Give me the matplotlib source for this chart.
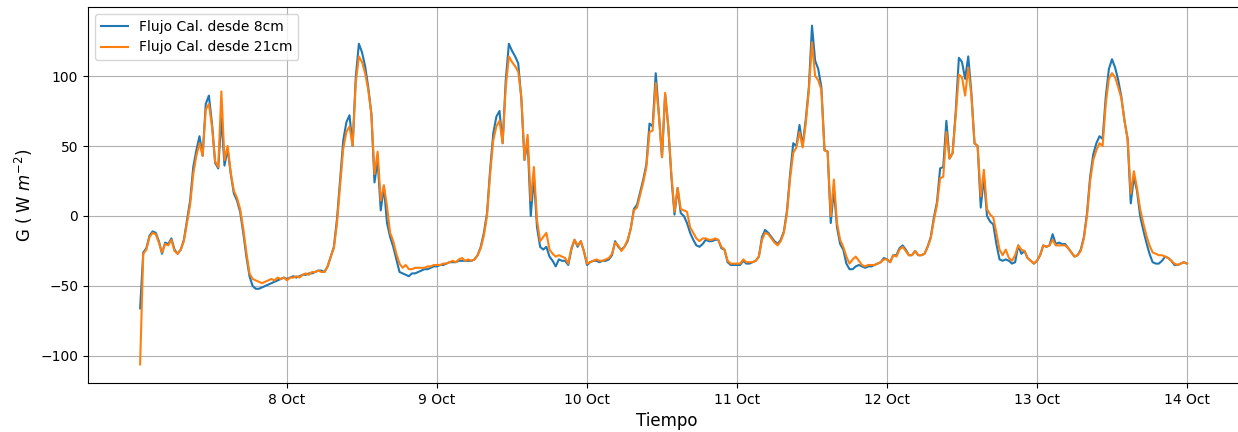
import matplotlib
matplotlib.use("Agg")
import matplotlib.pyplot as plt
import matplotlib.dates as mdates
import numpy as np
import pandas as pd

# half-hourly values, 7 Oct 00:30 -> 14 Oct 00:00
flujo_8cm = [
    # 7 Oct
    -66, -26, -23, -14, -11, -12, -18, -27, -19, -20, -16, -24,
    -27, -24, -17, -3, 11, 35, 47, 57, 43, 80, 86, 66,
    38, 34, 70, 36, 48, 30, 16, 11, 3, -12, -29, -43,
    -50, -52, -52, -51, -50, -49, -48, -47, -46, -45, -44,
    # 8 Oct
    -45, -44, -43, -44, -43, -42, -42, -41, -41, -40, -39, -39,
    -40, -36, -29, -22, -2, 26, 54, 67, 72, 50, 99, 123,
    117, 107, 92, 73, 24, 40, 4, 21, -5, -15, -22, -31,
    -40, -41, -42, -43, -41, -41, -40, -39, -38, -38, -37, -36,
    # 9 Oct
    -36, -35, -35, -34, -33, -33, -33, -32, -32, -32, -32, -32,
    -31, -28, -22, -12, 2, 33, 59, 71, 75, 52, 97, 123,
    118, 114, 109, 83, 40, 54, 0, 28, -8, -22, -24, -22,
    -29, -32, -36, -31, -32, -32, -35, -24, -17, -22, -18, -25,
    # 10 Oct
    -35, -33, -32, -32, -33, -32, -32, -31, -28, -18, -22, -24,
    -22, -18, -9, 5, 8, 17, 26, 37, 66, 64, 102, 73,
    42, 87, 64, 28, 1, 20, 2, 0, -5, -12, -17, -21,
    -22, -20, -17, -18, -18, -17, -17, -23, -24, -33, -35, -35,
    # 11 Oct
    -35, -35, -32, -34, -34, -33, -32, -29, -15, -10, -12, -15,
    -18, -20, -17, -11, 4, 30, 52, 50, 65, 50, 69, 92,
    136, 111, 105, 92, 47, 46, -5, 19, -8, -20, -24, -34,
    -38, -38, -36, -35, -36, -37, -36, -36, -35, -34, -33, -30,
    # 12 Oct
    -31, -33, -28, -28, -23, -21, -24, -28, -28, -25, -28, -28,
    -27, -22, -15, -1, 10, 34, 35, 68, 41, 45, 75, 113,
    110, 98, 114, 88, 52, 50, 6, 28, 0, -4, -6, -20,
    -31, -32, -31, -32, -34, -33, -21, -27, -25, -30, -32, -34,
    # 13 Oct
    -32, -28, -21, -22, -21, -13, -20, -19, -20, -20, -23, -26,
    -29, -28, -24, -15, 2, 28, 44, 52, 57, 55, 85, 105,
    112, 106, 97, 85, 68, 55, 9, 28, 18, 0, -10, -19,
    -27, -33, -34, -34, -32, -29, -30, -32, -35, -35, -34, -33,
    -34,
]

flujo_21cm = [
    # 7 Oct
    -106, -27, -24, -15, -12, -13, -19, -26, -20, -21, -17, -25,
    -27, -24, -18, -5, 8, 30, 43, 52, 43, 76, 80, 64,
    39, 35, 89, 40, 50, 31, 18, 13, 5, -9, -26, -41,
    -45, -46, -47, -48, -47, -46, -45, -46, -44, -45, -44,
    # 8 Oct
    -46, -44, -44, -43, -44, -42, -41, -42, -40, -40, -39, -40,
    -40, -36, -29, -23, -5, 22, 48, 60, 64, 50, 95, 114,
    110, 102, 90, 73, 30, 46, 11, 22, 7, -12, -18, -27,
    -34, -37, -35, -38, -38, -37, -37, -37, -37, -36, -36, -35,
    # 9 Oct
    -35, -35, -34, -34, -33, -32, -33, -31, -30, -32, -31, -32,
    -31, -28, -23, -14, 0, 30, 54, 64, 68, 52, 92, 114,
    110, 107, 103, 85, 40, 58, 11, 35, -3, -18, -15, -12,
    -24, -27, -29, -28, -29, -30, -34, -23, -17, -21, -18, -25,
    # 10 Oct
    -34, -33, -32, -31, -32, -32, -31, -30, -27, -19, -21, -25,
    -22, -17, -9, 4, 6, 15, 24, 35, 60, 61, 95, 72,
    42, 88, 64, 30, 3, 20, 5, 4, 3, -8, -12, -16,
    -18, -16, -16, -17, -17, -16, -17, -22, -24, -32, -34, -34,
    # 11 Oct
    -34, -34, -31, -33, -33, -33, -32, -29, -17, -12, -13, -16,
    -19, -21, -18, -12, 2, 27, 45, 49, 60, 49, 66, 90,
    124, 100, 97, 90, 47, 46, 0, 26, -5, -17, -22, -29,
    -34, -31, -29, -32, -35, -36, -35, -35, -35, -34, -33, -31,
    # 12 Oct
    -31, -33, -28, -29, -24, -22, -25, -28, -28, -25, -28, -28,
    -27, -22, -16, -3, 8, 27, 28, 60, 41, 45, 72, 101,
    99, 86, 106, 86, 52, 50, 14, 33, 5, 1, -1, -12,
    -24, -28, -24, -30, -32, -28, -21, -24, -25, -30, -32, -34,
    # 13 Oct
    -32, -28, -21, -22, -21, -17, -21, -21, -21, -21, -23, -26,
    -29, -28, -25, -16, 0, 25, 40, 47, 52, 50, 80, 98,
    102, 99, 92, 84, 68, 55, 16, 32, 20, 5, -5, -14,
    -21, -26, -27, -28, -28, -29, -30, -32, -34, -35, -34, -33,
    -34,
]

tiempo = pd.date_range("2019-10-07 00:30", periods=len(flujo_8cm), freq="30min")
dias = pd.date_range("2019-10-08", "2019-10-14", freq="D")

fig = plt.figure(figsize=(12.38, 4.32), dpi=100)
# right edge of the frame falls just outside the picture, like the original
ax = fig.add_axes([88 / 1238, 49 / 432, 1158 / 1238, 376 / 432])

ax.plot(tiempo, flujo_8cm, color="#1f77b4", lw=1.5, label="Flujo Cal. desde 8cm")
ax.plot(tiempo, flujo_21cm, color="#ff7f0e", lw=1.5, label="Flujo Cal. desde 21cm")

# 150 px per day -> 0.16 h per px
t0 = pd.Timestamp("2019-10-07")
ax.set_xlim(t0 - pd.Timedelta(hours=7.84), t0 + pd.Timedelta(hours=-7.84 + 1158 * 0.16))
ax.set_ylim(-119.3, 149.3)
ax.set_yticks([-100, -50, 0, 50, 100])
ax.set_xticks(dias)
ax.xaxis.set_major_formatter(
    matplotlib.ticker.FuncFormatter(lambda v, p: "%d %s" % (mdates.num2date(v).day, mdates.num2date(v).strftime("%b"))))
ax.grid(True, color="#b0b0b0", lw=0.8)
ax.tick_params(labelsize=10)

ax.set_xlabel("Tiempo", fontsize=12)
ax.set_ylabel("G ( W $m^{-2}$)", fontsize=12)
ax.legend(loc="upper left", fontsize=10)

fig.savefig("out.png", dpi=100)
